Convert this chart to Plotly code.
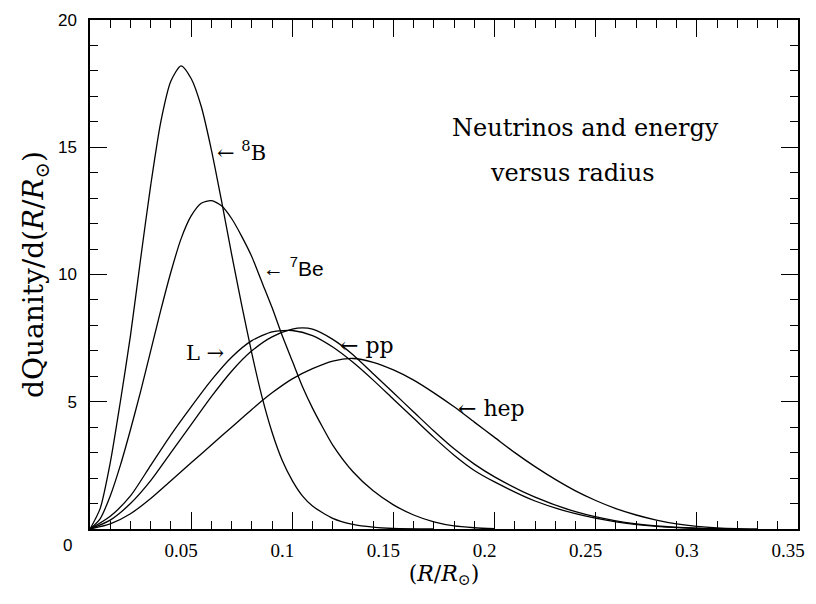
import plotly.graph_objects as go

# ---- data ----
x_b8 = [0, 0.005, 0.01, 0.015, 0.02, 0.025, 0.03, 0.035, 0.04, 0.045, 0.05, 0.055,
        0.06, 0.065, 0.07, 0.075, 0.08, 0.085, 0.09, 0.095, 0.1, 0.105, 0.11, 0.12,
        0.13, 0.14, 0.15, 0.17]
y_b8 = [0, 0.8, 2.6, 5.0, 7.6, 10.6, 13.5, 16.0, 17.6, 18.2, 17.7, 16.6,
        14.9, 12.9, 10.8, 8.8, 6.9, 5.2, 3.8, 2.7, 1.9, 1.3, 0.9, 0.42,
        0.18, 0.07, 0.02, 0]

x_be7 = [0, 0.005, 0.01, 0.015, 0.02, 0.025, 0.03, 0.035, 0.04, 0.045, 0.05, 0.055,
         0.06, 0.065, 0.07, 0.075, 0.08, 0.085, 0.09, 0.095, 0.1, 0.105, 0.11, 0.115,
         0.12, 0.13, 0.14, 0.15, 0.16, 0.17, 0.18, 0.19, 0.2]
y_be7 = [0, 0.4, 1.3, 2.5, 3.9, 5.4, 7.0, 8.6, 10.1, 11.4, 12.3, 12.8,
         12.9, 12.7, 12.2, 11.5, 10.7, 9.7, 8.7, 7.6, 6.6, 5.6, 4.75, 4.0,
         3.3, 2.25, 1.5, 0.95, 0.55, 0.28, 0.12, 0.05, 0.01]

x_lum = [0, 0.01, 0.02, 0.03, 0.04, 0.05, 0.06, 0.07, 0.08, 0.09, 0.1, 0.11, 0.12,
         0.13, 0.14, 0.15, 0.16, 0.17, 0.18, 0.19, 0.2, 0.22, 0.24, 0.26, 0.28, 0.3, 0.32]
y_lum = [0, 0.5, 1.3, 2.5, 3.7, 4.8, 5.85, 6.75, 7.4, 7.75, 7.8, 7.6, 7.15,
         6.55, 5.85, 5.1, 4.35, 3.6, 2.9, 2.3, 1.85, 1.1, 0.6, 0.28, 0.1, 0.02, 0]

x_pp = [0, 0.01, 0.02, 0.03, 0.04, 0.05, 0.06, 0.07, 0.08, 0.09, 0.1, 0.105, 0.11, 0.12,
        0.13, 0.14, 0.15, 0.16, 0.17, 0.18, 0.19, 0.2, 0.22, 0.24, 0.26, 0.28, 0.3, 0.32]
y_pp = [0, 0.35, 1.0, 1.9, 3.0, 4.1, 5.2, 6.2, 7.0, 7.55, 7.85, 7.9, 7.85, 7.45,
        6.85, 6.1, 5.35, 4.6, 3.85, 3.15, 2.55, 2.05, 1.25, 0.68, 0.32, 0.12, 0.03, 0]

x_hep = [0, 0.01, 0.02, 0.03, 0.04, 0.05, 0.06, 0.07, 0.08, 0.09, 0.1, 0.11, 0.12,
         0.13, 0.14, 0.15, 0.16, 0.17, 0.18, 0.19, 0.2, 0.21, 0.22, 0.23, 0.24, 0.25,
         0.26, 0.27, 0.28, 0.29, 0.3, 0.31, 0.32, 0.33]
y_hep = [0, 0.2, 0.6, 1.2, 1.9, 2.6, 3.3, 4.0, 4.7, 5.35, 5.9, 6.3, 6.6,
         6.7, 6.55, 6.25, 5.85, 5.35, 4.8, 4.2, 3.6, 3.0, 2.45, 1.95, 1.5, 1.12,
         0.8, 0.55, 0.35, 0.2, 0.1, 0.04, 0.01, 0]

series = [(x_b8, y_b8, "8B"), (x_be7, y_be7, "7Be"), (x_lum, y_lum, "L"),
          (x_pp, y_pp, "pp"), (x_hep, y_hep, "hep")]

x_tickvals = [0.05, 0.1, 0.15, 0.2, 0.25, 0.3, 0.35]
x_ticktext = ["0.05", "0.1", "0.15", "0.2", "0.25", "0.3", "0.35"]
y_tickvals = [5, 10, 15, 20]
y_ticktext = ["5", "10", "15", "20"]

fig = go.Figure()
for xs, ys, name in series:
    fig.add_trace(go.Scatter(x=xs, y=ys, mode="lines", name=name,
                             line=dict(color="black", width=1.3, shape="spline", smoothing=0.7),
                             showlegend=False, hoverinfo="skip"))

serif = "DejaVu Serif"

ann = [
    dict(x=0.2448, y=15.75, text="Neutrinos and energy", font=dict(family=serif, size=24), xanchor="center"),
    dict(x=0.2386, y=14.0, text="versus radius", font=dict(family=serif, size=24), xanchor="center"),
    dict(x=0.062, y=14.85, text="← <sup>8</sup>B", font=dict(family=serif, size=21), xanchor="left"),
    dict(x=0.0847, y=10.3, text="← <sup>7</sup>Be", font=dict(family="Liberation Sans", size=21), xanchor="left"),
    dict(x=0.0465, y=6.92, text="L →", font=dict(family=serif, size=21), xanchor="left"),
    dict(x=0.1224, y=7.23, text="← pp", font=dict(family=serif, size=22), xanchor="left"),
    dict(x=0.1811, y=4.72, text="← hep", font=dict(family=serif, size=22), xanchor="left"),
]
for a in ann:
    a.update(xref="x", yref="y", showarrow=False, yanchor="middle")
fig.update_layout(annotations=ann)
fig.add_annotation(xref="paper", yref="paper", x=0, y=0, text="0", showarrow=False,
                   xanchor="right", yanchor="top", xshift=-16, yshift=-5,
                   font=dict(family="Liberation Sans", size=17, color="black"))

axis_common = dict(showline=True, linecolor="black", linewidth=1.5, mirror="ticks",
                   ticks="inside", ticklen=17, tickwidth=1.2, tickcolor="black",
                   showgrid=False, zeroline=False)

fig.update_xaxes(range=[0, 0.35], tickvals=x_tickvals, ticktext=x_ticktext,
                 tickfont=dict(family="Liberation Serif", size=19, color="black"),
                 ticklabelstandoff=3, ticklabelshift=-10, ticklabeloverflow="allow",
                 minor=dict(dtick=0.01, tick0=0, ticks="inside", ticklen=8, tickwidth=1.2, tickcolor="black", showgrid=False),
                 title=dict(text="(<i>R</i>/<i>R</i><sub>⊙</sub>)", font=dict(family=serif, size=22, color="black"), standoff=2),
                 **axis_common)
fig.update_yaxes(range=[0, 20], tickvals=y_tickvals, ticktext=y_ticktext,
                 tickfont=dict(family="Liberation Sans", size=17, color="black"),
                 ticklabelstandoff=8,
                 minor=dict(dtick=1, tick0=0, ticks="inside", ticklen=8, tickwidth=1.2, tickcolor="black", showgrid=False),
                 title=dict(text="dQuanity/d(<i>R</i>/<i>R</i><sub>⊙</sub>)", font=dict(family=serif, size=28, color="black"), standoff=6),
                 **axis_common)

fig.update_layout(width=816, height=604, margin=dict(l=90, r=11, t=12, b=75),
                  plot_bgcolor="white", paper_bgcolor="white",
                  font=dict(color="black"))

fig.write_html("out.html")
